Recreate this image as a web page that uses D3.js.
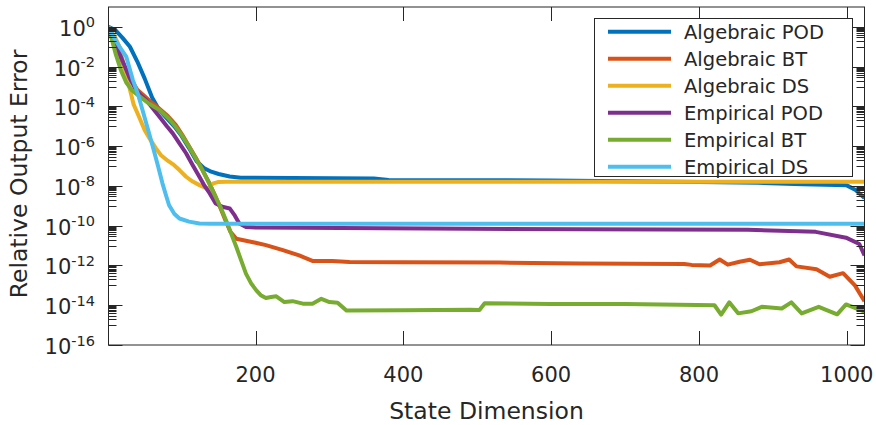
<!DOCTYPE html>
<html>
<head>
<meta charset="utf-8">
<script src="https://cdn.jsdelivr.net/npm/d3@7"></script>
<style>
  html, body { margin: 0; padding: 0; background: #fff; }
  svg { display: block; font-family: "DejaVu Sans", sans-serif; }
</style>
</head>
<body>
<svg id="chart" width="876" height="425"></svg>
<script>
// ---------------- data ----------------
const seriesNames = ["Algebraic POD", "Algebraic BT", "Algebraic DS", "Empirical POD", "Empirical BT", "Empirical DS"];
const seriesColors = ["#0072BD", "#D95319", "#EDB120", "#7E2F8E", "#77AC30", "#4DBEEE"];

const algPodN = [1,10,20,30,40,50,60,70,80,90,100,110,120,130,140,150,165,180,250,360,380,600,800,880,940,1000,1012,1024];
const algPodV = [1,0.7,0.28,0.1,0.018,2.5e-3,2.8e-4,6.3e-5,2.5e-5,1e-5,3.2e-6,8e-7,1.8e-7,8e-8,5.2e-8,4e-8,3e-8,2.6e-8,2.5e-8,2.4e-8,2e-8,1.9e-8,1.6e-8,1.45e-8,1.2e-8,1.07e-8,6.3e-9,2.5e-9];

const algBtN = [1,10,20,30,40,50,60,70,81,92,101,110,119,128,137,146,153,160,166,174,182,200,214,237,259,277,304,327,400,530,640,780,790,815,828,839,855,869,882,909,922,932,959,977,995,1011,1024];
const algBtV = [1,0.16,0.016,2.8e-3,6.8e-4,3.2e-4,1.5e-4,7.5e-5,3.4e-5,1.2e-5,3.6e-6,1e-6,2.7e-7,6.6e-8,1.5e-8,2.8e-9,7e-10,1.6e-10,5e-11,2.2e-11,1.9e-11,1.4e-11,1.05e-11,5.9e-12,3.2e-12,1.7e-12,1.7e-12,1.5e-12,1.45e-12,1.4e-12,1.26e-12,1.2e-12,1.07e-12,1e-12,2e-12,1.1e-12,1.55e-12,1.95e-12,1.15e-12,1.45e-12,2e-12,9e-13,6.5e-13,2.7e-13,4.1e-13,1e-13,1.6e-14];

const algDsN = [1,10,16,22,29,35,42,50,58,65,72,80,88,97,106,115,124,131,137,142,150,160,1024];
const algDsV = [1,0.3,0.1,0.01,1e-3,1.26e-4,3.2e-5,6.3e-6,2e-6,8e-7,3.5e-7,2e-7,1.26e-7,6.3e-8,2.9e-8,1.66e-8,1.1e-8,8.3e-9,7.6e-9,1.3e-8,1.6e-8,1.62e-8,1.62e-8];

const empPodN = [1,10,20,30,38,45,52,60,70,80,88,97,106,115,124,131,138,146,155,165,172,178,187,200,640,866,958,999,1017,1024];
const empPodV = [1,0.16,0.02,2.5e-3,6.8e-4,3.5e-4,2.1e-4,8.9e-5,3e-5,1e-5,4.4e-6,1.4e-6,4.4e-7,1.1e-7,2.9e-8,1e-8,4.2e-9,1.3e-9,8.9e-10,7.4e-10,3.2e-10,1.3e-10,8.7e-11,8.1e-11,6.6e-11,6.2e-11,4.9e-11,2.5e-11,1.2e-11,3.2e-12];

const empBtN = [1,11,18,25,33,43,55,70,81,92,101,110,119,128,137,146,153,160,167,174,181,187,194,201,207,214,221,228,239,250,264,277,289,300,311,323,400,490,503,510,600,700,821,830,841,853,871,885,912,925,939,962,987,999,1024];
const empBtV = [1,0.04,6.3e-3,1.6e-3,6.3e-4,3.2e-4,1.45e-4,6.6e-5,2.8e-5,9.5e-6,3.2e-6,9.3e-7,2.5e-7,6.3e-8,1.4e-8,2.8e-9,7.9e-10,1.9e-10,4e-11,8.5e-12,1.6e-12,3.9e-13,1.26e-13,5.6e-14,3.2e-14,2.3e-14,2.6e-14,2.8e-14,1.45e-14,1.6e-14,1.2e-14,1.2e-14,2.1e-14,1.45e-14,1.35e-14,5.4e-15,5.6e-15,6e-15,5.8e-15,1.26e-14,1.17e-14,1.17e-14,1e-14,3.4e-15,1.4e-14,3.9e-15,5e-15,8.3e-15,6.9e-15,1.4e-14,3.9e-15,8.3e-15,3.5e-15,1.1e-14,4.7e-15];

const empDsN = [1,8,16,25,34,41,47,54,61,68,74,79,83,90,97,110,124,140,1024];
const empDsV = [1,0.3,0.1,0.032,2.1e-3,4e-4,6.6e-5,8e-6,9.3e-7,1e-7,1.35e-8,3.2e-9,1.07e-9,4e-10,2.3e-10,1.6e-10,1.3e-10,1.26e-10,1.26e-10];

const xTicks = [200, 400, 600, 800, 1000];
const yTickExps = [0, -2, -4, -6, -8, -10, -12, -14, -16];
const xLabel = "State Dimension";
const yLabel = "Relative Output Error";

const seriesN = [algPodN, algBtN, algDsN, empPodN, empBtN, empDsN];
const seriesV = [algPodV, algBtV, algDsV, empPodV, empBtV, empDsV];

// ---------------- layout ----------------
const L = 108.5, R = 864.5, T = 7, B = 345;
const ink = "#262626";
const svg = d3.select("#chart");

const x = d3.scaleLinear().domain([1, 1024]).range([L, R]);
const y = d3.scaleLog().domain([1e-16, 1e1]).range([B, T]);

svg.append("defs").append("clipPath").attr("id", "clip")
  .append("rect").attr("x", L).attr("y", T).attr("width", R - L).attr("height", B - T);

// lines
const line = d3.line().x(d => x(d[0])).y(d => y(d[1]));
const plot = svg.append("g").attr("clip-path", "url(#clip)");
seriesNames.forEach((name, i) => {
  const pts = seriesN[i].map((n, k) => [n, seriesV[i][k]]);
  plot.append("path").datum(pts)
    .attr("d", line)
    .attr("fill", "none")
    .attr("stroke", seriesColors[i])
    .attr("stroke-width", 4)
    .attr("stroke-linejoin", "round")
    .attr("stroke-linecap", "butt");
});

// axes box
const axes = svg.append("g");
axes.append("rect").attr("x", L).attr("y", T).attr("width", R - L).attr("height", B - T)
  .attr("fill", "none").attr("stroke", ink).attr("stroke-width", 1);

// x ticks (bottom & top, inward)
const xMajor = 14;
xTicks.forEach(t => {
  const px = Math.round(x(t)) + 0.5;
  axes.append("line").attr("x1", px).attr("x2", px).attr("y1", B).attr("y2", B - xMajor).attr("stroke", ink);
  axes.append("line").attr("x1", px).attr("x2", px).attr("y1", T).attr("y2", T + xMajor).attr("stroke", ink);
  axes.append("text").attr("x", x(t)).attr("y", 382).attr("text-anchor", "middle")
    .attr("font-size", 21).attr("fill", ink).text(t);
});

// y ticks (left & right, inward)
const yMajor = 14, yMinor = 8;
yTickExps.forEach(e => {
  const vals = [{v: Math.pow(10, e), len: yMajor}];
  for (let m = 1; m <= 9; m++) vals.push({v: m * Math.pow(10, e - 1), len: yMinor});
  vals.forEach(o => {
    if (o.v < 1e-16 * 0.999) return;
    const py = Math.round(y(o.v)) + 0.5;
    axes.append("line").attr("x1", L).attr("x2", L + o.len).attr("y1", py).attr("y2", py).attr("stroke", ink);
    axes.append("line").attr("x1", R).attr("x2", R - o.len).attr("y1", py).attr("y2", py).attr("stroke", ink);
  });
  const tx = axes.append("text").attr("x", 95).attr("y", y(Math.pow(10, e)) + 9)
    .attr("text-anchor", "end").attr("fill", ink).attr("font-size", 21);
  tx.append("tspan").text("10");
  tx.append("tspan").attr("dy", -8.5).attr("font-size", 14.5).text(String(e));
});

// axis labels
svg.append("text").attr("x", (L + R) / 2).attr("y", 419).attr("text-anchor", "middle")
  .attr("font-size", 23.5).attr("fill", ink).text(xLabel);
svg.append("text").attr("transform", `translate(26.5,174) rotate(-90)`)
  .attr("text-anchor", "middle").attr("font-size", 23.5).attr("fill", ink).text(yLabel);

// legend
const lg = svg.append("g");
const lgX = 594.5, lgY = 18.5, lgW = 258, lgH = 158;
lg.append("rect").attr("x", lgX).attr("y", lgY).attr("width", lgW).attr("height", lgH)
  .attr("fill", "#fff").attr("stroke", ink).attr("stroke-width", 1);
seriesNames.forEach((name, i) => {
  const cy = 31.7 + i * 27;
  lg.append("line").attr("x1", 608).attr("x2", 671).attr("y1", cy).attr("y2", cy)
    .attr("stroke", seriesColors[i]).attr("stroke-width", 4);
  lg.append("text").attr("x", 684).attr("y", cy + 7).attr("font-size", 19.5).attr("fill", ink).text(name);
});
</script>
</body>
</html>
